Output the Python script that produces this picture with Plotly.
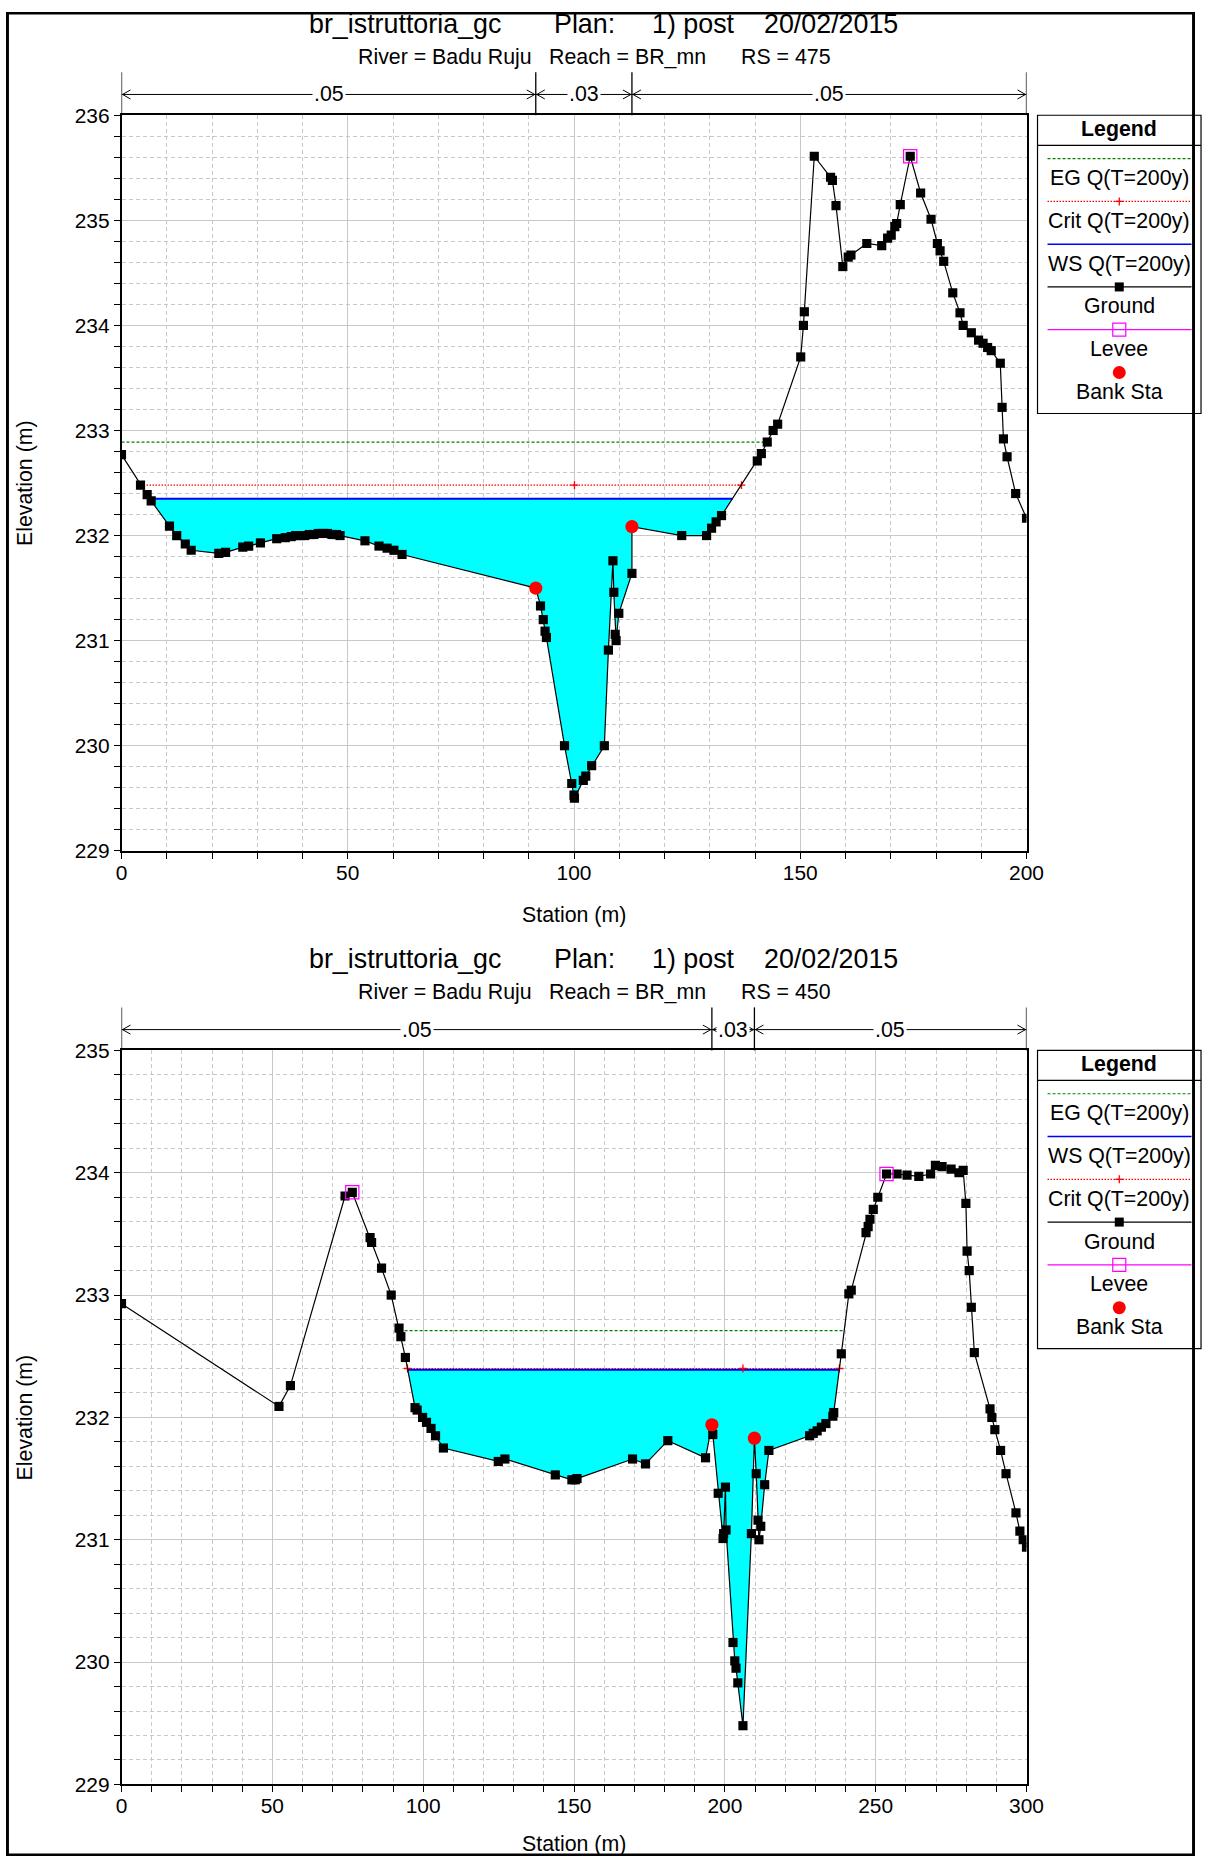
import numpy as np
import plotly.graph_objects as go

W, H = 1212, 1867
FONT = "Liberation Sans, Arial, sans-serif"

# placement of the figure inside the final page image (offset + scale, measured)
AX, SX = 5.5, 0.981
AY, SY = 11.8, 0.987
K = 1 / ((SX + SY) / 2)  # size compensation for fonts and markers

# ---------------- RS = 475 ----------------
sta_475 = [0, 4.2, 5.67, 6.56, 10.6, 12.2, 14.1, 15.4, 21.5, 23.0, 26.8, 28.1, 30.7, 34.3,
           36.2, 37.5, 38.5, 39.5, 40.5, 41.5, 42.5, 43.5, 44.5, 45.5, 46.5, 47.5, 48.3,
           53.8, 56.9, 58.7, 60.2, 62.0,
           91.55, 92.6, 93.2, 93.6, 93.9, 97.9, 99.5, 100.0, 100.1, 102.05, 102.6, 103.9, 106.7,
           107.6, 108.6, 108.8, 109.1, 109.3, 109.9, 112.8, 112.8,
           123.8, 129.3, 130.4, 131.4, 132.6, 140.5, 141.4, 142.7, 144.0, 145.0,
           150.1, 150.7, 150.9, 153.1, 156.7, 157.1, 157.9, 159.4, 160.6, 161.2, 164.7,
           168.0, 169.3, 170.1, 170.9, 171.3, 172.1, 174.3, 176.6, 178.9, 180.3, 180.9, 181.7,
           183.7, 185.3, 186.0, 187.8, 189.4, 190.4, 191.4, 192.2, 194.2, 194.6, 194.9, 195.7,
           197.6, 200.0]
elev_475 = [232.77, 232.48, 232.39, 232.33, 232.09, 232.0, 231.92, 231.86, 231.83, 231.84, 231.89, 231.9, 231.93, 231.97,
            231.98, 231.99, 232.0, 232.0, 232.0, 232.01, 232.01, 232.02, 232.02, 232.02, 232.01, 232.01, 232.0,
            231.95, 231.90, 231.88, 231.86, 231.82,
            231.50, 231.33, 231.20, 231.09, 231.03, 230.0, 229.64, 229.53, 229.50, 229.67, 229.71, 229.81, 230.0,
            230.91, 231.76, 231.46, 231.06, 231.0, 231.26, 231.64, 232.085,
            232.0, 232.0, 232.07, 232.13, 232.19, 232.71, 232.78, 232.89, 233.0, 233.06,
            233.70, 234.0, 234.13, 235.61, 235.41, 235.38, 235.14, 234.56, 234.65, 234.67, 234.78,
            234.76, 234.83, 234.86, 234.94, 234.97, 235.15, 235.61, 235.26, 235.01, 234.78, 234.71, 234.61,
            234.31, 234.12, 234.0, 233.93, 233.86, 233.83, 233.79, 233.76, 233.64, 233.22, 232.92, 232.75,
            232.40, 232.165]
bank_sta_475 = [91.55, 112.8]
bank_elev_475 = [231.50, 232.085]
levee_sta_475 = [174.3]
levee_elev_475 = [235.61]
ws_475, crit_475, eg_475 = 232.35, 232.48, 232.89
n_475 = [".05", ".03", ".05"]

# ---------------- RS = 450 ----------------
sta_450 = [0, 52.2, 56.0, 74.1, 76.5, 82.4, 82.9, 86.2, 89.4, 92.0, 92.6, 94.1,
           97.3, 98.0, 99.8, 101.1, 102.6, 104.1, 106.7, 124.9, 127.1, 143.8, 149.3, 150.4, 151.0,
           169.4, 173.7, 181.1, 193.6, 195.7, 196.0, 197.8, 199.4, 199.6, 200.2, 200.4,
           202.7, 203.3, 203.7, 204.3, 206.0, 208.8, 209.8, 210.4, 211.0, 211.3, 211.9, 213.2, 214.6,
           228.1, 229.3, 230.6, 232.0, 233.5, 235.8, 236.1, 238.6, 241.1, 241.9,
           246.8, 247.5, 248.1, 249.2, 250.7, 253.6, 257.1, 260.4, 264.3, 268.2, 269.8, 272.0, 275.0, 277.6, 279.0,
           279.9, 280.3, 281.0, 281.7, 282.7, 287.9, 288.5, 289.5, 291.4, 293.2, 296.5, 297.8, 298.9, 300.0]
elev_450 = [232.93, 232.09, 232.26, 233.81, 233.84, 233.47, 233.43, 233.22, 233.0, 232.73, 232.66, 232.49,
            232.08, 232.06, 232.0, 231.96, 231.91, 231.85, 231.75, 231.64, 231.66, 231.53, 231.49, 231.49, 231.50,
            231.66, 231.62, 231.81, 231.67, 231.94, 231.86, 231.38, 231.01, 231.05, 231.43, 231.08,
            230.16, 230.01, 229.95, 229.83, 229.48, 231.05, 231.83, 231.54, 231.16, 231.0, 231.11, 231.45, 231.73,
            231.85, 231.87, 231.89, 231.92, 231.95, 232.01, 232.04, 232.52, 233.01, 233.04,
            233.51, 233.56, 233.62, 233.70, 233.80, 233.99, 233.99, 233.98, 233.97, 233.99, 234.06, 234.05, 234.03, 234.0, 234.02,
            233.75, 233.36, 233.20, 232.90, 232.53, 232.07, 232.0, 231.90, 231.73, 231.54, 231.22, 231.07, 231.0, 230.94]
bank_sta_450 = [195.7, 209.8]
bank_elev_450 = [231.94, 231.83]
levee_sta_450 = [76.5, 253.6]
levee_elev_450 = [233.84, 233.99]
ws_450, crit_450, eg_450 = 232.39, 232.40, 232.71
n_450 = [".05", ".03", ".05"]

legend_475 = ["EG Q(T=200y)", "Crit Q(T=200y)", "WS Q(T=200y)", "Ground", "Levee", "Bank Sta"]
legend_450 = ["EG Q(T=200y)", "WS Q(T=200y)", "Crit Q(T=200y)", "Ground", "Levee", "Bank Sta"]

C_EG, C_WS, C_CRIT, C_LEV, C_BANK, C_WATER = "#008000", "#0000ff", "#ff0000", "#ff00ff", "#ff0000", "#00ffff"
GRID = "#c8c8c8"


def px(x):
    """Page x pixel -> paper fraction."""
    return (x - AX) / SX / W


def py(y):
    """Page y pixel (from top) -> paper fraction."""
    return 1 - (y - AY) / SY / H


def fs(v):
    return round(v * K, 2)


def span(sta, elev, level):
    """Left/right stations where a level meets the ground around the thalweg."""
    s = np.asarray(sta, float)
    e = np.asarray(elev, float)
    k = int(np.argmin(e))
    i = k
    while i > 0 and e[i - 1] < level:
        i -= 1
    j = k
    while j < len(e) - 1 and e[j + 1] < level:
        j += 1
    left = s[0] if i == 0 else s[i - 1] + (level - e[i - 1]) * (s[i] - s[i - 1]) / (e[i] - e[i - 1])
    right = s[-1] if j == len(e) - 1 else s[j] + (level - e[j]) * (s[j + 1] - s[j]) / (e[j + 1] - e[j])
    return left, right, i, j, s[k]


def text(txt, x, y, size=21, xanchor="center", **kw):
    return dict(text=txt, x=px(x), y=py(y), xref="paper", yref="paper", xanchor=xanchor,
                yanchor="middle", showarrow=False, font=dict(family=FONT, size=fs(size), color="black"), **kw)


sections = [
    dict(rs="475", sta=sta_475, elev=elev_475, bank_sta=bank_sta_475, bank_elev=bank_elev_475,
         lev_sta=levee_sta_475, lev_elev=levee_elev_475, ws=ws_475, crit=crit_475, eg=eg_475,
         n=n_475, legend=legend_475, xr=[0, 200], xa="x", ya="y", top=115, bot=850, head=0, xt=914.5),
    dict(rs="450", sta=sta_450, elev=elev_450, bank_sta=bank_sta_450, bank_elev=bank_elev_450,
         lev_sta=levee_sta_450, lev_elev=levee_elev_450, ws=ws_450, crit=crit_450, eg=eg_450,
         n=n_450, legend=legend_450, xr=[0, 300], xa="x2", ya="y2", top=1049.5, bot=1783, head=934.5, xt=1843),
]

fig = go.Figure()
shapes = []
annos = []

PL, PR = 121, 1026

for sec in sections:
    xa, ya = sec["xa"], sec["ya"]
    sta, elev = sec["sta"], sec["elev"]

    # water area below the water surface
    wl, wr, i, j, thal = span(sta, elev, sec["ws"])
    fx = [wl] + list(sta[i:j + 1]) + [wr]
    fy = [sec["ws"]] + list(elev[i:j + 1]) + [sec["ws"]]
    fig.add_trace(go.Scatter(x=fx, y=fy, fill="toself", fillcolor=C_WATER, mode="lines",
                             line=dict(width=0), xaxis=xa, yaxis=ya, hoverinfo="skip"))
    # energy grade
    el, er, *_ = span(sta, elev, sec["eg"])
    fig.add_trace(go.Scatter(x=[el, er], y=[sec["eg"]] * 2, mode="lines",
                             line=dict(color=C_EG, width=1.2, dash="3px,2px"), xaxis=xa, yaxis=ya))
    # water surface
    fig.add_trace(go.Scatter(x=[wl, wr], y=[sec["ws"]] * 2, mode="lines",
                             line=dict(color=C_WS, width=2), xaxis=xa, yaxis=ya))
    # critical depth
    cl, cr, _, _, thal = span(sta, elev, sec["crit"])
    fig.add_trace(go.Scatter(x=[cl, cr], y=[sec["crit"]] * 2, mode="lines",
                             line=dict(color=C_CRIT, width=1.2, dash="1.5px,1.5px"), xaxis=xa, yaxis=ya))
    fig.add_trace(go.Scatter(x=[cl, thal, cr], y=[sec["crit"]] * 3, mode="markers",
                             marker=dict(symbol="cross-thin", size=fs(5.5), line=dict(color=C_CRIT, width=1.3)),
                             xaxis=xa, yaxis=ya))
    # ground
    fig.add_trace(go.Scatter(x=sta, y=elev, mode="lines+markers",
                             line=dict(color="black", width=1.2),
                             marker=dict(symbol="square", size=fs(9), color="black", line=dict(width=0)),
                             xaxis=xa, yaxis=ya))
    # levees
    fig.add_trace(go.Scatter(x=sec["lev_sta"], y=sec["lev_elev"], mode="markers",
                             marker=dict(symbol="square-open", size=fs(13), color=C_LEV,
                                         line=dict(color=C_LEV, width=1.2)),
                             xaxis=xa, yaxis=ya))
    # bank stations
    fig.add_trace(go.Scatter(x=sec["bank_sta"], y=sec["bank_elev"], mode="markers",
                             marker=dict(symbol="circle", size=fs(13), color=C_BANK, line=dict(width=0)),
                             xaxis=xa, yaxis=ya))

    # ---- titles ----
    h = sec["head"]
    for txt, x in [("br_istruttoria_gc", 306.5), ("Plan:", 551), ("1) post", 649), ("20/02/2015", 761)]:
        annos.append(text(txt, x, h + 24, size=26.4, xanchor="left"))
    for txt, x in [("River = Badu Ruju", 355), ("Reach = BR_mn", 546.5), ("RS = " + sec["rs"], 738)]:
        annos.append(text(txt, x, h + 57, xanchor="left"))

    # ---- roughness bar ----
    edges = [sec["xr"][0]] + list(sec["bank_sta"]) + [sec["xr"][1]]
    arrow_y = sec["top"] - 20.8
    for st in edges:
        shapes.append(dict(type="line", xref=xa, yref="paper", x0=st, x1=st,
                           y0=py(sec["top"] - 43), y1=py(sec["top"]), line=dict(color="black", width=1.3)))
    shapes.append(dict(type="line", xref=xa, yref="paper", x0=edges[0], x1=edges[-1],
                       y0=py(arrow_y), y1=py(arrow_y), line=dict(color="black", width=1)))
    for a, b, nv in zip(edges[:-1], edges[1:], sec["n"]):
        shapes.append(dict(type="path", xref=xa, yref="paper", xsizemode="pixel", ysizemode="pixel",
                           xanchor=a, yanchor=py(arrow_y), path="M 9,4.5 L 1,0 L 9,-4.5",
                           line=dict(color="black", width=1)))
        shapes.append(dict(type="path", xref=xa, yref="paper", xsizemode="pixel", ysizemode="pixel",
                           xanchor=b, yanchor=py(arrow_y), path="M -9,4.5 L -1,0 L -9,-4.5",
                           line=dict(color="black", width=1)))
        annos.append(dict(text=nv, x=(a + b) / 2, xref=xa, y=py(arrow_y), yref="paper",
                          xanchor="center", yanchor="middle",
                          showarrow=False, bgcolor="white", borderpad=1,
                          font=dict(family=FONT, size=fs(21), color="black")))

    # ---- axis titles ----
    annos.append(text("Station (m)", (PL + PR) / 2, sec["xt"]))
    annos.append(text("Elevation (m)", 24.5, (sec["top"] + sec["bot"]) / 2, textangle=-90))

    # ---- legend box ----
    lt = sec["top"]
    LX0, LX1 = 1037, 1200.5
    CX = (LX0 + LX1) / 2
    shapes.append(dict(type="rect", xref="paper", yref="paper", x0=px(LX0), x1=px(LX1), y0=py(lt + 298), y1=py(lt),
                       line=dict(color="black", width=1.2), fillcolor="white"))
    shapes.append(dict(type="line", xref="paper", yref="paper", x0=px(LX0), x1=px(LX1), y0=py(lt + 30), y1=py(lt + 30),
                       line=dict(color="black", width=1.2)))
    annos.append(text("<b>Legend</b>", CX, lt + 14))
    for k, label in enumerate(sec["legend"]):
        ly = lt + 43.3 + 42.75 * k
        annos.append(text(label, CX, ly + 19.5))

        def hline(color, dash=None, width=1.2):
            d = dict(color=color, width=width)
            if dash:
                d["dash"] = dash
            shapes.append(dict(type="line", xref="paper", yref="paper", x0=px(1047), x1=px(1191),
                               y0=py(ly), y1=py(ly), line=d))

        def box(r, **style):
            return dict(xref="paper", yref="paper", x0=px(CX - r), x1=px(CX + r),
                        y0=py(ly + r), y1=py(ly - r), **style)

        if label.startswith("EG"):
            hline(C_EG, "3px,2px")
        elif label.startswith("Crit"):
            hline(C_CRIT, "1.5px,1.5px")
            shapes.append(dict(type="line", xref="paper", yref="paper", x0=px(CX - 4), x1=px(CX + 4),
                               y0=py(ly), y1=py(ly), line=dict(color=C_CRIT, width=1.3)))
            shapes.append(dict(type="line", xref="paper", yref="paper", x0=px(CX), x1=px(CX),
                               y0=py(ly - 4), y1=py(ly + 4), line=dict(color=C_CRIT, width=1.3)))
        elif label.startswith("WS"):
            hline(C_WS, None, 1.5)
        elif label == "Ground":
            hline("black")
            shapes.append(box(4.5, type="rect", fillcolor="black", line=dict(width=0)))
        elif label == "Levee":
            hline(C_LEV)
            shapes.append(box(6.5, type="rect", line=dict(color=C_LEV, width=1.2)))
        else:
            shapes.append(box(6.5, type="circle", fillcolor=C_BANK, line=dict(width=0)))

# outer frame along the figure edges
for x0, x1, y0, y1 in [(0, 3, 0, H), (W - 3, W, 0, H), (0, W, 0, 2.5), (0, W, H - 2.5, H)]:
    shapes.append(dict(type="rect", xref="paper", yref="paper", x0=x0 / W, x1=x1 / W,
                       y0=1 - y1 / H, y1=1 - y0 / H, fillcolor="black", line=dict(width=0)))


def axis(rng, dtick, mdtick, domain, anchor, standoff=0):
    return dict(range=rng, dtick=dtick, tick0=0, domain=domain, anchor=anchor,
                showline=True, linecolor="black", linewidth=1.5, mirror=True,
                ticks="outside", ticklen=6, tickcolor="black", tickwidth=1,
                ticklabelstandoff=standoff,
                showgrid=True, gridcolor=GRID, gridwidth=1, zeroline=False,
                minor=dict(dtick=mdtick, tick0=0, ticks="outside", ticklen=6, tickcolor="black", tickwidth=1,
                           showgrid=True, gridcolor=GRID, griddash="4px,3px", gridwidth=1),
                tickfont=dict(family=FONT, size=fs(20.6), color="black"), fixedrange=True)


xdom = [px(PL), px(PR)]
fig.update_layout(
    width=W, height=H, margin=dict(l=0, r=0, t=0, b=0, pad=0),
    paper_bgcolor="white", plot_bgcolor="white", showlegend=False,
    xaxis=axis([0, 200], 50, 10, xdom, "y", standoff=-4),
    yaxis=axis([229, 236], 1, 0.2, [py(850), py(115)], "x"),
    xaxis2=axis([0, 300], 50, 10, xdom, "y2", standoff=-4),
    yaxis2=axis([229, 235], 1, 0.2, [py(1783), py(1049.5)], "x2"),
    shapes=shapes, annotations=annos,
)

fig.write_html("out.html")
